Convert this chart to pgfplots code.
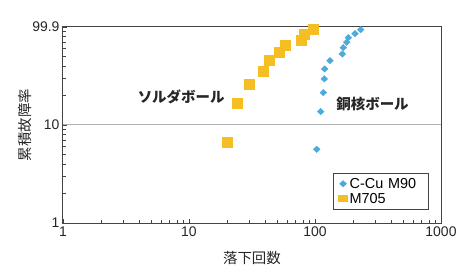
\documentclass[border=0pt]{standalone}
\usepackage{pgfplots}
\pgfplotsset{compat=1.18}
\usepackage{fontspec}
\setmainfont{Liberation Sans}
\newfontfamily\jp{Noto Sans CJK JP}
\definecolor{cublue}{HTML}{4FA9DC}
\definecolor{myel}{HTML}{F5BE22}
\definecolor{axgray}{HTML}{444444}
\pgfplotsset{
  cuimg/.style={legend image code/.code={\draw[##1, mark size=3bp] plot coordinates {(0bp,0bp)};}},
  yeimg/.style={legend image code/.code={\draw[##1, mark size=4.5bp, mark options={yscale=0.68}] plot coordinates {(0bp,0bp)};}},
}
\begin{document}
\begin{tikzpicture}
\useasboundingbox (-63bp,-48bp) rectangle (405bp,223bp);
\begin{axis}[
  anchor=south west, at={(0,0)},
  scale only axis, width=378bp, height=196bp,
  xmode=log, ymode=log,
  xmin=1, xmax=1000, ymin=1, ymax=99.9,
  xtick={1,10,100,1000}, xticklabels={1,10,100,1000},
  ytick={1,10,99.9}, yticklabels={1,10,99.9},
  minor xtick={2,3,...,9,20,30,...,90,200,300,...,900},
  minor ytick={2,3,...,9,20,30,...,90},
  tick pos=left, tick align=inside,
  major tick length=4bp, minor tick length=3bp,
  every tick/.style={axgray, line width=0.5bp},
  axis line style={axgray, line width=1bp},
  extra y ticks={10}, extra y tick labels={},
  extra y tick style={grid=major, major grid style={black!30, line width=1bp}},
  tick label style={font=\fontsize{14}{16}\selectfont, color=black!85},
  /pgf/number format/assume math mode=true,
  xlabel={\jp 落下回数},
  ylabel={\jp 累積故障率},
  xlabel style={at={(axis description cs:0.5,-0.1786)}, anchor=center, font=\fontsize{14.5}{16}\selectfont, color=black!85},
  ylabel style={at={(axis description cs:-0.1005,0.5)}, anchor=center, rotate=0, font=\fontsize{14.5}{16}\selectfont, color=black!85},
  legend style={at={(1,0)}, anchor=south east, xshift=-12bp, yshift=13bp, draw=axgray, line width=0.8bp, font=\fontsize{14.5}{15}\selectfont, row sep=-0.5bp, inner xsep=5bp, inner ysep=3bp,
    /tikz/column 2/.append style={text width=72bp, anchor=west}},
  legend cell align=left,
]
\addplot[only marks, mark=diamond*, mark size=3.2bp, color=cublue, mark options={xscale=1.4}, cuimg] table {
x y
103.2 5.65
110.9 13.7
116.4 21.4
118.5 29.5
119.4 37.3
131.5 45.3
164.7 53.0
167.7 61.5
178.5 69.8
183.8 77.8
207.7 85.4
230.5 93.8
};
\addlegendentry{C-Cu M90}
\addplot[only marks, mark=square*, mark size=5bp, color=myel, yeimg] table {
x y
20.0 6.71
24.2 16.65
30.1 26.0
38.9 35.3
43.4 45.7
52.1 55.2
58.1 65.1
77.8 73.7
82.8 84.9
96.9 94.8
};
\addlegendentry{M705}
\node[anchor=east, font=\jp\bfseries\fontsize{14.5}{16}\selectfont, color=black!85] at (rel axis cs:0.4365,0.643) {ソルダボール};
\node[anchor=west, font=\jp\bfseries\fontsize{14.5}{16}\selectfont, color=black!85] at (rel axis cs:0.714,0.607) {銅核ボール};
\node[anchor=west, font=\jp\bfseries\fontsize{14.5}{16}\selectfont] at (rel axis cs:0.013,1.071) {落下衝撃試験結果};
\end{axis}
\end{tikzpicture}
\end{document}
